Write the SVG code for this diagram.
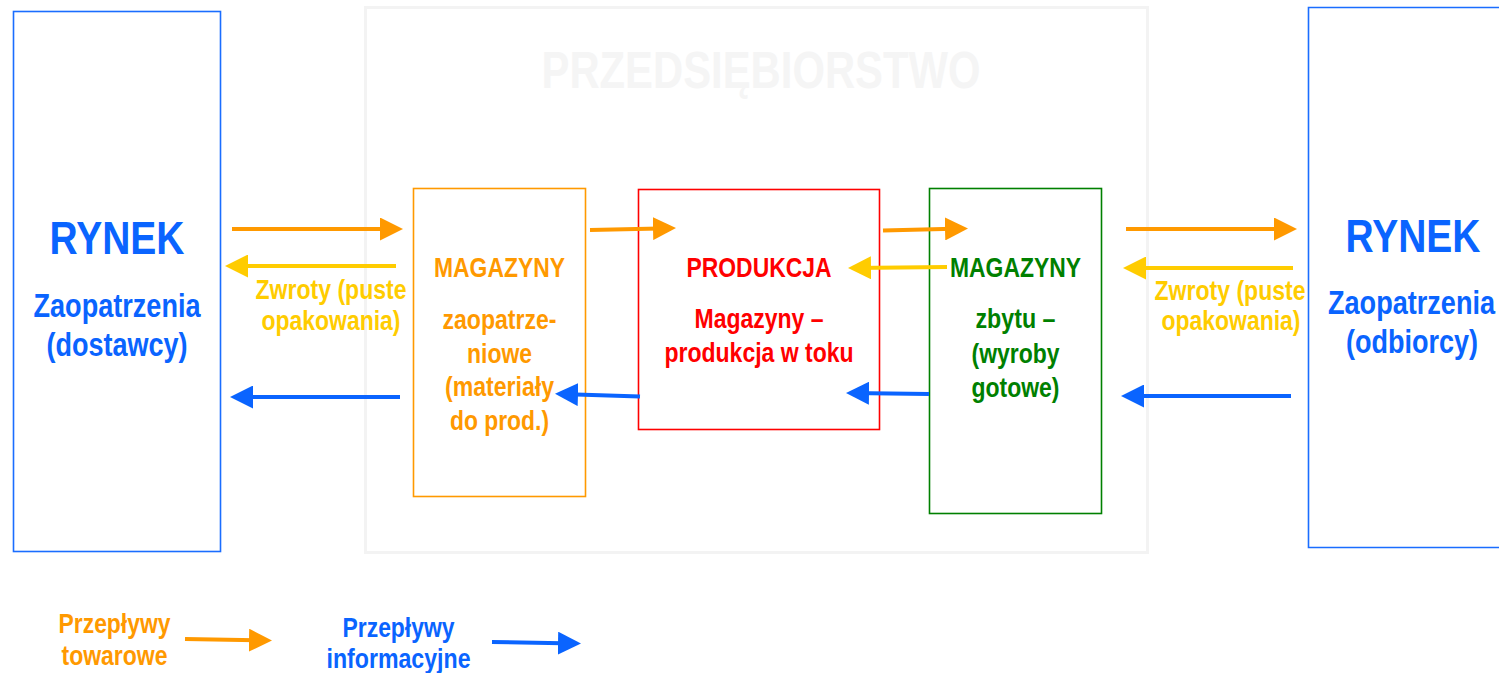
<svg xmlns="http://www.w3.org/2000/svg" width="1499" height="673" viewBox="0 0 1499 673">
<style>
text{font-family:'Liberation Sans Narrow','Liberation Sans',Arial,sans-serif;font-weight:bold;text-anchor:middle;}
.t28{font-size:28px;}
.blue{fill:#0a64ff;}
.orange{fill:#ff9900;}
.yellow{fill:#ffcc00;}
.red{fill:#ff0000;}
.green{fill:#008000;}
.box{fill:#ffffff;}
.ar{fill:none;stroke-width:4;}
.ao{stroke:#ff9900;marker-end:url(#mo);}
.ay{stroke:#ffcc00;marker-end:url(#my);}
.ab{stroke:#0a64ff;marker-end:url(#mb);}
</style>
<defs>
<marker id="mo" markerUnits="userSpaceOnUse" viewBox="0 0 23 23" markerWidth="23" markerHeight="23" refX="18" refY="11.5" orient="auto"><path d="M0,0 L23,11.5 L0,23 Z" fill="#ff9900"/></marker>
<marker id="my" markerUnits="userSpaceOnUse" viewBox="0 0 23 23" markerWidth="23" markerHeight="23" refX="18" refY="11.5" orient="auto"><path d="M0,0 L23,11.5 L0,23 Z" fill="#ffcc00"/></marker>
<marker id="mb" markerUnits="userSpaceOnUse" viewBox="0 0 23 23" markerWidth="23" markerHeight="23" refX="18" refY="11.5" orient="auto"><path d="M0,0 L23,11.5 L0,23 Z" fill="#0a64ff"/></marker>
</defs>
<rect x="0" y="0" width="1499" height="673" fill="#ffffff"/>

<g id="przedsiebiorstwo">
<rect x="365.5" y="7.5" width="782" height="545" fill="#ffffff" stroke="#f3f3f3" stroke-width="3"/>
<text x="761" y="88" style="font-size:51px;fill:#f5f5f5" textLength="439" lengthAdjust="spacingAndGlyphs">PRZEDSIĘBIORSTWO</text>
</g>

<g id="rynek-zaopatrzenia">
<rect x="13.5" y="11.5" width="207" height="540" class="box" stroke="#1a6dff" stroke-width="1.6"/>
<text x="117" y="254" class="blue" style="font-size:47px" textLength="135" lengthAdjust="spacingAndGlyphs">RYNEK</text>
<text x="117" y="317" class="blue" style="font-size:33px" textLength="167" lengthAdjust="spacingAndGlyphs">Zaopatrzenia</text>
<text x="117" y="356" class="blue" style="font-size:33px" textLength="141" lengthAdjust="spacingAndGlyphs">(dostawcy)</text>
</g>

<g id="rynek-odbiorcy">
<path d="M1499,7.5 H1308.5 V547.5 H1499" fill="#ffffff" stroke="#1a6dff" stroke-width="1.6"/>
<text x="1413" y="252" class="blue" style="font-size:47px" textLength="135" lengthAdjust="spacingAndGlyphs">RYNEK</text>
<text x="1411.5" y="314" class="blue" style="font-size:33px" textLength="167" lengthAdjust="spacingAndGlyphs">Zaopatrzenia</text>
<text x="1412" y="353" class="blue" style="font-size:33px" textLength="132" lengthAdjust="spacingAndGlyphs">(odbiorcy)</text>
</g>

<g id="magazyny-zaopatrzeniowe">
<rect x="413.5" y="188.5" width="172" height="308" class="box" stroke="#ff9900" stroke-width="1.6"/>
<text x="499.5" y="277" class="t28 orange" textLength="131" lengthAdjust="spacingAndGlyphs">MAGAZYNY</text>
<text x="499.5" y="329" class="t28 orange" textLength="114" lengthAdjust="spacingAndGlyphs">zaopatrze-</text>
<text x="499.5" y="362.5" class="t28 orange" textLength="65" lengthAdjust="spacingAndGlyphs">niowe</text>
<text x="499.5" y="396" class="t28 orange" textLength="109" lengthAdjust="spacingAndGlyphs">(materiały</text>
<text x="499.5" y="429.5" class="t28 orange" textLength="99" lengthAdjust="spacingAndGlyphs">do prod.)</text>
</g>

<g id="produkcja">
<rect x="638.5" y="189.5" width="241" height="240" class="box" stroke="#ff0000" stroke-width="1.6"/>
<text x="759" y="277" class="t28 red" textLength="145" lengthAdjust="spacingAndGlyphs">PRODUKCJA</text>
<text x="759" y="328" class="t28 red" textLength="129" lengthAdjust="spacingAndGlyphs">Magazyny –</text>
<text x="759" y="362" class="t28 red" textLength="189" lengthAdjust="spacingAndGlyphs">produkcja w toku</text>
</g>

<g id="magazyny-zbytu">
<rect x="929.5" y="188.5" width="172" height="325" class="box" stroke="#008000" stroke-width="1.6"/>
<text x="1015.5" y="277" class="t28 green" textLength="131" lengthAdjust="spacingAndGlyphs">MAGAZYNY</text>
<text x="1015.5" y="328" class="t28 green" textLength="80" lengthAdjust="spacingAndGlyphs">zbytu –</text>
<text x="1015.5" y="363" class="t28 green" textLength="88" lengthAdjust="spacingAndGlyphs">(wyroby</text>
<text x="1015.5" y="397" class="t28 green" textLength="88" lengthAdjust="spacingAndGlyphs">gotowe)</text>
</g>

<g id="connectors">
<path class="ar ao" d="M232,229 L398,229"/>
<path class="ar ay" d="M396,266 L230,266"/>
<path class="ar ab" d="M400,397 L235,397"/>
<path class="ar ao" d="M590,230 L671,228.2"/>
<path class="ar ay" d="M947,267 L853,268"/>
<path class="ar ab" d="M640,396.5 L560,394"/>
<path class="ar ab" d="M929,394 L851,393"/>
<path class="ar ao" d="M883,230.5 L963,228.5"/>
<path class="ar ao" d="M1126,229 L1292,229"/>
<path class="ar ay" d="M1293,268 L1128,268"/>
<path class="ar ab" d="M1291,396 L1126,396"/>
<path class="ar ao" d="M185,639 L267,640.5"/>
<path class="ar ab" d="M492,642 L576,643.5"/>
</g>

<g id="label-zwroty-left">
<text x="331" y="299" class="t28 yellow" textLength="151" lengthAdjust="spacingAndGlyphs">Zwroty (puste</text>
<text x="331" y="330" class="t28 yellow" textLength="139" lengthAdjust="spacingAndGlyphs">opakowania)</text>
</g>
<g id="label-zwroty-right">
<text x="1230" y="300" class="t28 yellow" textLength="151" lengthAdjust="spacingAndGlyphs">Zwroty (puste</text>
<text x="1231" y="330" class="t28 yellow" textLength="139" lengthAdjust="spacingAndGlyphs">opakowania)</text>
</g>

<g id="legend-towarowe">
<text x="114.5" y="633" class="t28 orange" textLength="112" lengthAdjust="spacingAndGlyphs">Przepływy</text>
<text x="114.5" y="665" class="t28 orange" textLength="106" lengthAdjust="spacingAndGlyphs">towarowe</text>
</g>
<g id="legend-informacyjne">
<text x="398.5" y="637" class="t28 blue" textLength="112" lengthAdjust="spacingAndGlyphs">Przepływy</text>
<text x="398.5" y="668" class="t28 blue" textLength="144" lengthAdjust="spacingAndGlyphs">informacyjne</text>
</g>
</svg>
